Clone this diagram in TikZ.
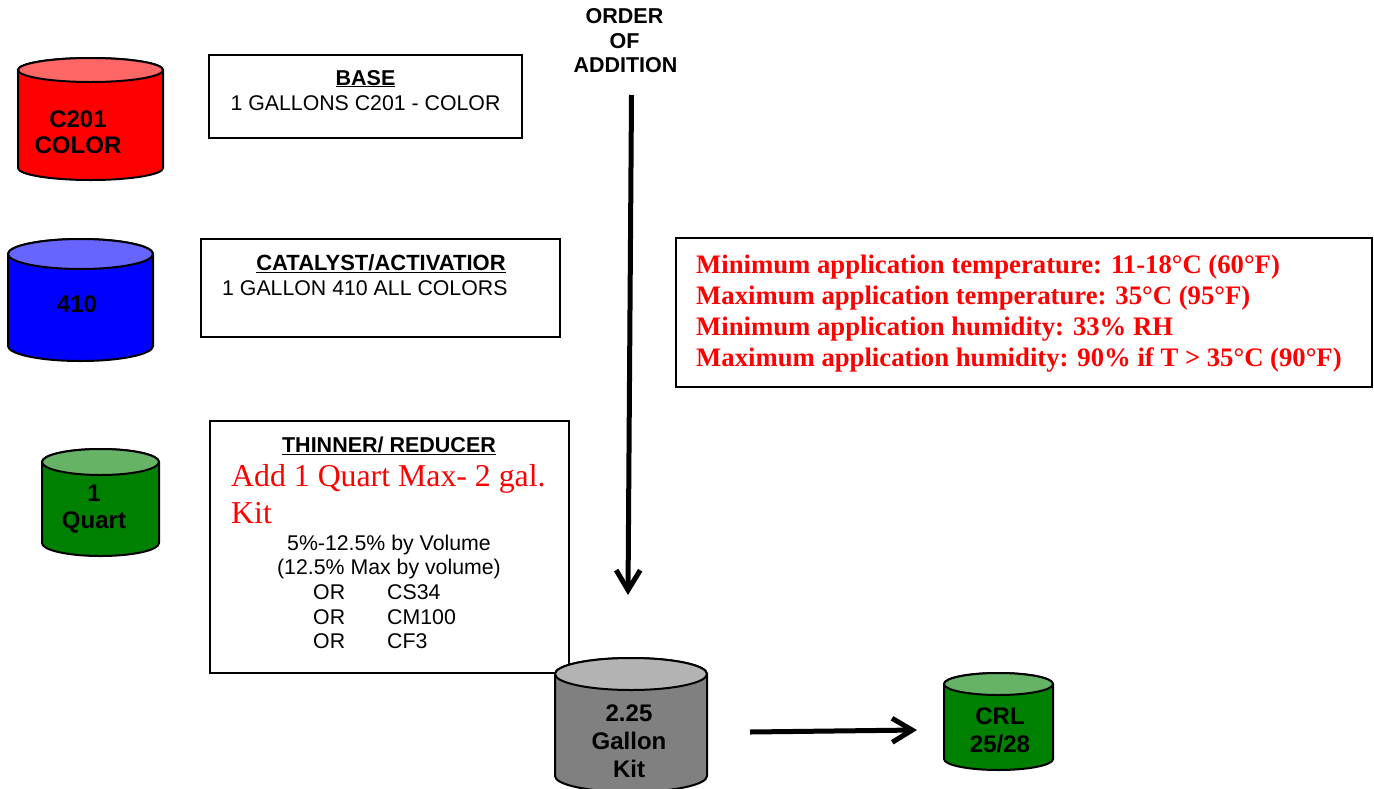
\documentclass[tikz,border=0pt]{standalone}
\usepackage{fontspec}
\setmainfont{Liberation Sans}
\newfontfamily\serifred{Liberation Serif}
\usetikzlibrary{arrows.meta}
\definecolor{lidred}{RGB}{255,102,102}
\definecolor{lidblue}{RGB}{102,102,255}
\definecolor{lidgreen}{RGB}{102,179,102}
\definecolor{bodygreen}{RGB}{0,128,0}
\definecolor{bodygray}{RGB}{128,128,128}
\definecolor{lidgray}{RGB}{179,179,179}
\newcommand{\drum}[8]{%
  % name, left, right, top, bottom, ry, body, lid
  \path[fill=#7,draw=black,line width=2pt,line join=round]
    (#2,#4+#6) -- (#2,#5-#6) arc[start angle=180,end angle=0,x radius={(#3-#2)/2},y radius=#6]
    -- (#3,#4+#6) arc[start angle=0,end angle=-180,x radius={(#3-#2)/2},y radius=#6] -- cycle;
  \path[fill=#8,draw=black,line width=2pt]
    ({(#2+#3)/2},#4+#6) ellipse[x radius={(#3-#2)/2},y radius=#6];
  \coordinate (#1) at ({(#2+#3)/2},{(#4+#5)/2});
}
\tikzset{
  x=1pt,y=-1pt,
  boxed/.style={draw=black,line width=2pt,fill=white,inner sep=0pt,outer sep=0pt,anchor=north west},
  lbl/.style={anchor=base,inner sep=0pt,font=\fontsize{21.3}{24}\selectfont},
  lblw/.style={anchor=base west,inner sep=0pt,font=\fontsize{21.3}{24}\selectfont},
  bold/.style={lbl,font=\fontsize{24}{26}\selectfont\bfseries},
  hdr/.style={lbl,font=\fontsize{21.5}{24}\selectfont\bfseries},
  redtxt/.style={anchor=base west,inner sep=0pt,text=red,font=\fontsize{26.7}{31}\selectfont\serifred\bfseries},
  redbig/.style={anchor=base west,inner sep=0pt,text=red,font=\fontsize{31.8}{37}\selectfont\serifred},
  thick arrow/.style={line width=5pt,-{Straight Barb[length=20pt,width=24pt,line width=5pt]}},
}
\begin{document}
\begin{tikzpicture}
\useasboundingbox (0,0) rectangle (1374,788);
% boxes
\node[boxed,minimum width=313pt,minimum height=83pt] (basebox) at (209,55) {};
\node[boxed,minimum width=359pt,minimum height=98pt] (catbox) at (201,239) {};
\node[boxed,minimum width=359pt,minimum height=252pt] (thinbox) at (210,421) {};
\node[boxed,minimum width=696pt,minimum height=149pt] (tempbox) at (676,238) {};
% drums
\drum{cred}{18}{163}{58}{180}{12}{red}{lidred}
\drum{cblue}{8}{153}{239}{361}{15}{blue}{lidblue}
\drum{cgreen}{42}{159}{449}{556}{13}{bodygreen}{lidgreen}
\drum{cgray}{555}{707}{658}{792}{16}{bodygray}{lidgray}
\drum{ccrl}{944}{1053}{673}{770}{11}{bodygreen}{lidgreen}
% drum labels
\node[bold] (t1) at (78,127) {C201};
\node[bold] (t2) at (78,153) {COLOR};
\node[bold] (t3) at (77,312) {410};
\node[bold] (t4) at (94,501) {1};
\node[bold] (t5) at (94,528) {Quart};
\node[bold] (t6) at (629,721) {2.25};
\node[bold] (t7) at (629,749) {Gallon};
\node[bold] (t8) at (629,777) {Kit};
\node[bold] (t9) at (1000,724) {CRL};
\node[bold] (t10) at (1000,752) {25/28};
% box text
\node[hdr] (b1) at (365.5,85) {\underline{BASE}};
\node[lbl] (b2) at (365.5,110) {1 GALLONS C201 - COLOR};
\node[hdr,font=\fontsize{22}{24}\selectfont\bfseries] (c1) at (381,270) {\underline{CATALYST/ACTIVATIOR}};
\node[lblw] (c2) at (222,295) {1 GALLON 410 ALL COLORS};
\node[hdr] (d1) at (389,452) {\underline{THINNER/ REDUCER}};
\node[redbig] (d2) at (231,486) {Add 1 Quart Max- 2 gal.};
\node[redbig] (d3) at (231,523) {Kit};
\node[lbl] (d4) at (389,550) {5\%-12.5\% by Volume};
\node[lbl] (d5) at (389,574) {(12.5\% Max by volume)};
\node[lblw] (d6) at (313,599) {OR};
\node[lblw] (d7) at (387,599) {CS34};
\node[lblw] (d8) at (313,624) {OR};
\node[lblw] (d9) at (387,624) {CM100};
\node[lblw] (d10) at (313,648) {OR};
\node[lblw] (d11) at (387,648) {CF3};
% temperature text
\node[redtxt] (r1) at (696,273) {Minimum application temperature: 11-18°C (60°F)};
\node[redtxt] (r2) at (696,304) {Maximum application temperature: 35°C (95°F)};
\node[redtxt] (r3) at (696,335) {Minimum application humidity: 33\% RH};
\node[redtxt] (r4) at (696,366) {Maximum application humidity: 90\% if T > 35°C (90°F)};
% order
\node[hdr] (o1) at (624.5,23) {ORDER};
\node[hdr] (o2) at (624.5,48) {OF};
\node[hdr] (o3) at (625.5,72) {ADDITION};
% arrows
\coordinate (a1s) at (631.5,95);
\coordinate (a1e) at (628,595);
\coordinate (a2s) at (750,732);
\coordinate (a2e) at (917,730);
\draw[thick arrow] (a1s) -- (a1e);
\draw[thick arrow] (a2s) -- (a2e);
\end{tikzpicture}
\end{document}
